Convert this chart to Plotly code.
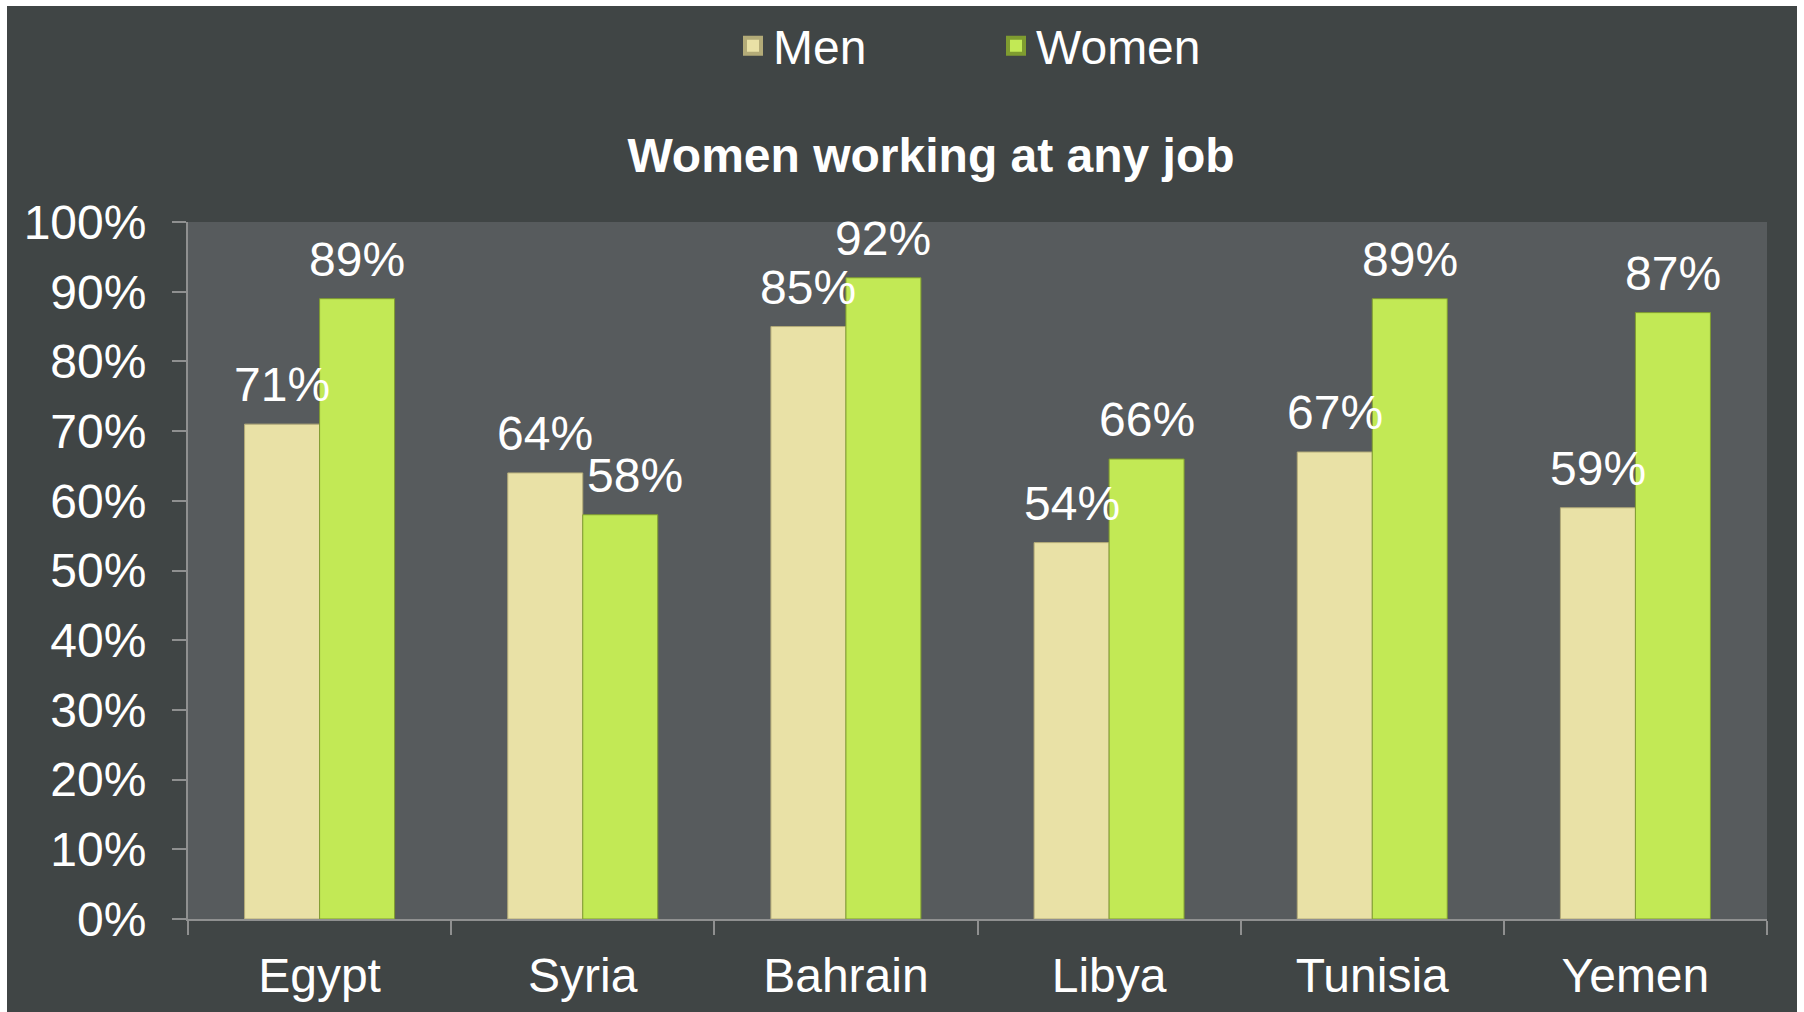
import plotly.graph_objects as go

countries = ["Egypt", "Syria", "Bahrain", "Libya", "Tunisia", "Yemen"]
men = [0.71, 0.64, 0.85, 0.54, 0.67, 0.59]
women = [0.89, 0.58, 0.92, 0.66, 0.89, 0.87]
series_names = ["Men", "Women"]
title_text = "Women working at any job"

W, H = 1804, 1012
ML, MR, MT, MB = 188, 37, 222, 93
PW, PH = W - ML - MR, H - MT - MB
BARGAP = 0.43

FONT = "Liberation Sans, Arial, sans-serif"
FS = 48
BG = "#404545"
PLOT_BG = "#575B5D"
AXIS = "#8F9090"
COLORS = {"Men": ("#E9E1A6", "#B3AB78"), "Women": ("#C2E955", "#7F9C30")}
# extra horizontal nudge (px) for a label that was moved aside in the original
LABEL_NUDGE = {("Women", "Syria"): 15}

fig = go.Figure()
for name, vals in zip(series_names, [men, women]):
    fill, edge = COLORS[name]
    fig.add_trace(go.Bar(
        x=countries, y=vals, name=name, showlegend=False,
        marker=dict(color=fill, line=dict(color=edge, width=1)),
    ))
# legend entries (square swatches)
for name in series_names:
    fill, edge = COLORS[name]
    fig.add_trace(go.Scatter(
        x=[None], y=[None], name=name, mode="markers",
        marker=dict(symbol="square", size=16, color=fill, line=dict(color=edge, width=4)),
    ))

# data labels above each bar
half = (PW / len(countries)) * (1 - BARGAP) / 4
annotations = []
for k, (name, vals) in enumerate(zip(series_names, [men, women])):
    for c, v in zip(countries, vals):
        shift = (-half if k == 0 else half) + LABEL_NUDGE.get((name, c), 0)
        annotations.append(dict(
            x=c, y=v, xref="x", yref="y", text=f"{v:.0%}", showarrow=False,
            xanchor="center", yanchor="bottom", xshift=shift, yshift=11,
            font=dict(family=FONT, size=FS, color="white"),
        ))

def px_x(p):
    return (p - ML) / PW

def px_y(p):
    return (H - MB - p) / PH

shapes = [
    dict(type="rect", xref="paper", yref="paper", x0=px_x(0), x1=px_x(W), y0=px_y(6), y1=px_y(0),
         fillcolor="white", line=dict(width=0), layer="above"),
    dict(type="rect", xref="paper", yref="paper", x0=px_x(0), x1=px_x(7), y0=px_y(H), y1=px_y(0),
         fillcolor="white", line=dict(width=0), layer="above"),
    dict(type="rect", xref="paper", yref="paper", x0=px_x(W - 7), x1=px_x(W), y0=px_y(H), y1=px_y(0),
         fillcolor="white", line=dict(width=0), layer="above"),
]

fig.update_layout(
    width=W, height=H,
    margin=dict(l=ML, r=MR, t=MT, b=MB, autoexpand=False),
    paper_bgcolor=BG, plot_bgcolor=PLOT_BG,
    font=dict(family=FONT, size=FS, color="white"),
    barmode="group", bargap=BARGAP, bargroupgap=0,
    title=dict(text="<b>" + title_text + "</b>", x=931 / W, xref="container", xanchor="center",
               y=1 - 155 / H, yref="container", yanchor="middle",
               font=dict(family=FONT, size=FS, color="white")),
    legend=dict(orientation="h", x=px_x(733), xanchor="left", y=1 - 46 / H, yref="container",
                yanchor="middle", font=dict(family=FONT, size=FS, color="white"),
                entrywidth=218, entrywidthmode="pixels", bgcolor="rgba(0,0,0,0)",
                itemsizing="trace"),
    shapes=shapes,
    annotations=annotations,
    xaxis=dict(showline=True, linecolor=AXIS, linewidth=2, ticks="outside", tickson="boundaries",
               ticklen=14, tickcolor=AXIS, tickwidth=2, showgrid=False,
               tickfont=dict(family=FONT, size=FS, color="white"), ticklabelstandoff=13),
    yaxis=dict(range=[0, 1], dtick=0.1, tickformat=".0%", showline=True, linecolor=AXIS, linewidth=2,
               ticks="outside", ticklen=14, tickcolor=AXIS, tickwidth=2, showgrid=False, zeroline=False,
               tickfont=dict(family=FONT, size=FS, color="white"), ticklabelstandoff=16),
)

fig.write_html("out.html")
